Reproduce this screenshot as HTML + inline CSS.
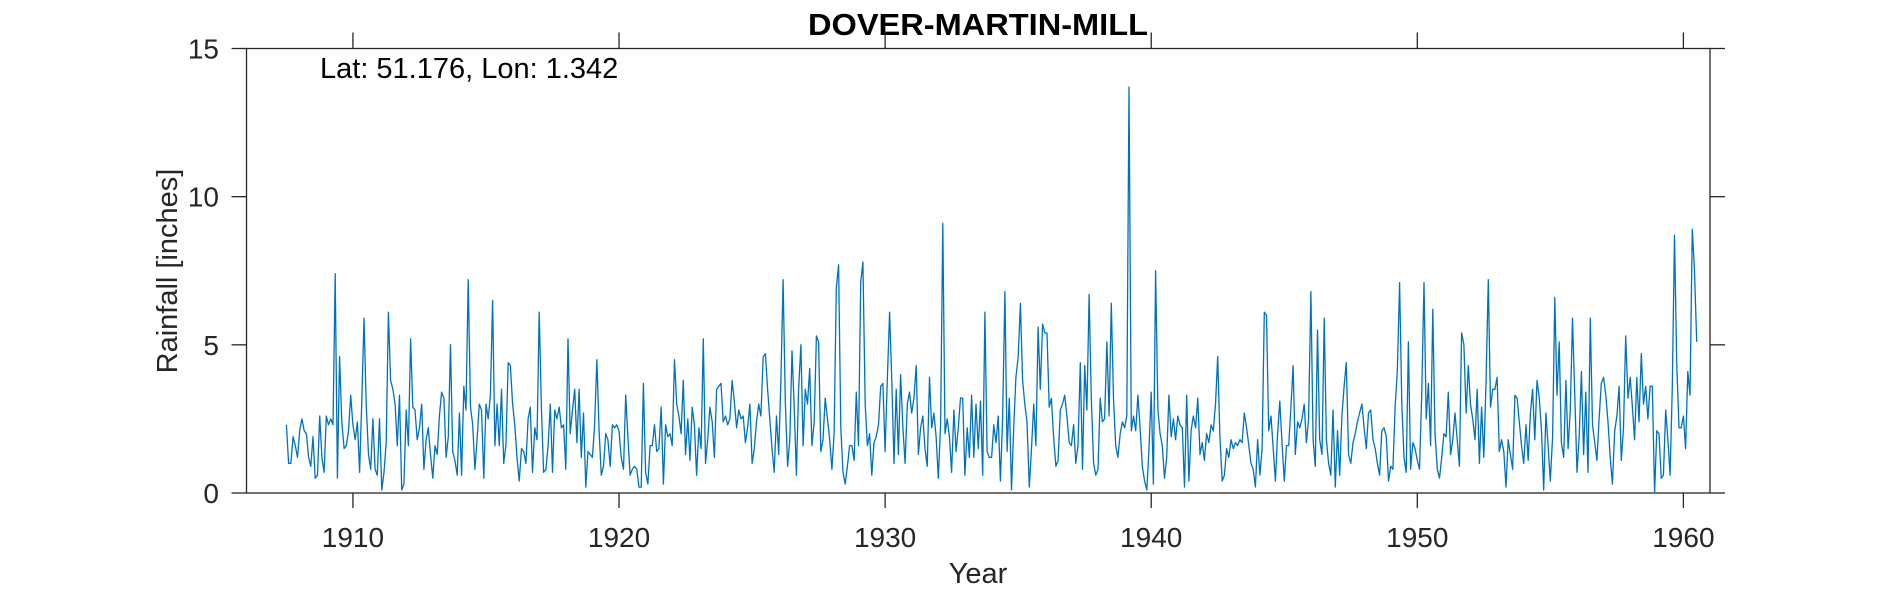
<!DOCTYPE html>
<html><head><meta charset="utf-8"><style>
html,body{margin:0;padding:0;background:#fff;}
svg{display:block;font-family:"Liberation Sans",Arial,sans-serif;}
</style></head><body>
<svg id="chart" width="1890" height="591" viewBox="0 0 1890 591">
<rect width="1890" height="591" fill="#fff"/>
<text x="978" y="35" text-anchor="middle" font-size="31" font-weight="bold" fill="#000" textLength="340" lengthAdjust="spacingAndGlyphs">DOVER-MARTIN-MILL</text>
<g id="axes"></g>
<g id="series"></g>
<text x="320" y="78" font-size="29" fill="#000">Lat: 51.176, Lon: 1.342</text>
<text x="978" y="583" text-anchor="middle" font-size="29" fill="#262626">Year</text>
<text transform="translate(177,271) rotate(-90)" text-anchor="middle" font-size="29" fill="#262626">Rainfall [inches]</text>
</svg>
<script>
const startYear = 1907.5;
const xTicks = [1910, 1920, 1930, 1940, 1950, 1960];
const yTicks = [0, 5, 10, 15];
const rain1907 = [2.3,1.0,1.0,1.9,1.6,1.2];
const rain1908_1915 = [
2.1,2.5,2.1,2.0,1.2,0.9,1.9,0.5,0.6,2.6,1.2,0.7,
2.6,2.3,2.5,2.3,7.4,0.5,4.6,2.4,1.5,1.6,2.1,3.3,
2.3,1.8,2.4,0.7,3.1,5.9,3.0,1.3,0.8,2.5,0.8,0.6,
2.5,0.1,0.7,1.7,6.1,3.8,3.5,3.0,1.6,3.3,0.1,0.3,
2.8,1.6,5.2,2.9,2.8,1.8,2.2,3.0,0.8,1.8,2.2,1.3,
0.5,1.6,1.3,2.6,3.4,3.2,1.2,1.9,5.0,1.4,1.1,0.6,
2.7,0.6,3.6,2.8,7.2,2.9,2.3,0.8,1.8,3.0,2.8,0.5,
3.0,2.5,3.3,6.5,1.6,3.0,1.6,3.5,1.0,1.6,4.4,4.3];
const rain1916_1922 = [
3.0,2.3,1.2,0.4,1.5,1.4,1.0,2.5,2.9,0.7,2.2,1.8,
6.1,2.9,0.7,0.8,1.6,3.0,0.7,2.8,2.5,2.9,2.2,2.3,
0.8,5.2,2.0,2.8,3.5,1.7,3.5,1.2,2.7,0.2,1.4,1.3,
1.2,2.3,4.5,2.1,0.6,0.9,2.0,1.8,0.9,2.3,2.2,2.3,
2.1,1.2,0.8,3.3,1.9,0.6,0.8,0.9,0.8,0.2,0.2,3.7,
0.7,0.3,1.6,1.6,2.3,1.4,1.5,2.9,0.3,2.3,1.9,2.0,
1.6,4.5,3.0,2.6,2.0,3.8,1.3,2.5,1.1,2.9,2.3,0.6];
const rain1923_1934 = [
2.2,1.5,5.2,1.0,1.8,2.9,2.4,1.2,3.5,3.6,3.7,2.4,
2.6,2.3,2.5,3.8,3.1,2.2,2.8,2.5,2.6,1.7,2.2,3.0,
1.0,1.5,2.4,3.0,2.6,4.6,4.7,3.5,2.5,1.5,0.7,2.6,
1.3,3.8,7.2,3.1,0.9,1.8,4.8,2.9,0.6,3.5,5.0,1.6,
3.5,3.0,4.2,1.6,2.4,5.3,5.1,1.4,1.8,3.2,2.5,1.8,
0.8,2.0,6.9,7.7,2.2,0.7,0.3,0.9,1.6,1.6,1.1,3.4,
1.6,7.1,7.8,3.0,1.6,2.0,0.6,1.7,1.9,2.3,3.6,3.7,
1.4,3.8,6.1,3.8,1.0,3.5,1.3,4.0,2.2,1.0,3.0,3.4,
2.7,3.2,4.3,1.3,2.2,2.6,1.5,0.9,3.9,2.2,2.7,1.9,
0.5,2.3,9.1,2.0,2.5,1.9,0.7,2.8,1.4,2.2,3.2,3.2,
0.6,2.2,1.2,3.3,1.2,3.0,1.5,3.1,0.6,6.1,1.4,1.2,
1.2,2.3,1.7,2.6,0.4,2.5,6.8,1.4,3.2,0.1,2.2,3.9];
const rain1935_1947 = [
4.6,6.4,3.8,3.0,2.4,0.2,1.5,3.0,1.6,5.6,3.5,5.7,
5.4,5.4,2.9,3.2,1.9,0.9,1.1,2.8,3.0,3.3,2.6,1.7,
1.6,2.3,1.0,1.6,4.4,0.8,4.3,2.8,6.7,3.2,1.0,0.6,
0.8,3.2,2.4,2.5,5.1,2.6,6.4,3.2,1.6,1.2,2.0,2.4,
2.2,2.6,13.7,2.1,2.6,2.1,3.3,2.2,0.9,0.4,0.1,1.5,
3.4,0.3,7.5,2.8,2.0,1.6,0.5,1.2,3.3,1.9,2.5,1.8,
2.6,2.3,2.2,0.2,3.3,0.4,2.1,2.6,2.2,3.2,1.3,1.7,
1.1,2.0,1.7,2.3,2.1,3.0,4.6,1.9,0.4,0.6,1.5,1.2,
1.8,1.5,1.7,1.6,1.8,1.7,2.7,2.2,1.6,1.0,0.8,0.2,
1.8,0.6,1.5,6.1,6.0,2.1,2.6,1.5,0.4,2.0,3.1,1.7,
0.4,1.6,1.6,2.9,4.3,1.3,2.4,2.2,2.5,3.0,1.7,2.5,
6.8,1.8,0.9,5.5,1.8,1.3,5.9,1.8,1.0,0.6,2.8,0.2,
2.1,0.6,2.6,3.6,4.4,1.3,1.0,1.7,2.0,2.4,2.7,3.0];
const rain1948_1960 = [
2.2,1.5,2.7,2.8,1.8,1.5,1.0,0.6,2.1,2.2,1.9,0.4,
0.9,0.8,2.9,4.1,7.1,3.0,1.2,0.7,5.1,0.8,1.7,1.5,
1.1,0.8,3.3,7.1,2.5,3.7,1.6,6.2,2.0,0.8,0.5,1.2,
2.0,1.9,3.4,1.3,1.8,2.7,1.8,0.9,5.4,5.0,2.7,4.3,
3.0,2.5,1.8,3.5,1.0,2.9,1.2,3.7,7.2,2.9,3.5,3.5,
3.9,1.4,1.8,1.4,0.2,1.8,1.3,0.8,3.3,3.2,2.4,1.6,
1.0,2.3,1.1,2.7,3.5,1.8,3.8,3.2,2.1,0.1,2.7,1.6,
0.4,1.9,6.6,3.3,5.1,1.7,1.2,3.8,1.5,2.8,5.9,3.4,
0.7,1.9,4.1,1.3,3.4,0.7,5.9,2.3,1.7,1.1,2.5,3.7,
3.9,3.3,2.4,1.2,0.3,2.1,2.6,3.6,1.1,2.2,5.3,3.2,
3.9,2.9,1.8,3.9,2.4,4.7,3.0,3.6,2.5,3.6,3.6,0.0,
2.1,2.0,0.5,0.6,2.8,1.8,0.6,3.6,8.7,4.4,2.2,2.2,
2.6,1.5,4.1,3.3,8.9,7.5,5.1];
const rainfall = [].concat(rain1907, rain1908_1915, rain1916_1922, rain1923_1934, rain1935_1947, rain1948_1960);

const NS = "http://www.w3.org/2000/svg";
const L = 246.5, R = 1710, T = 48.5, B = 493;
const xMin = 1906, xMax = 1961, yMin = 0, yMax = 15;
function xs(v){ return L + (v - xMin) / (xMax - xMin) * (R - L); }
function ys(v){ return B - (v - yMin) / (yMax - yMin) * (B - T); }
function mk(tag, attrs){ const e = document.createElementNS(NS, tag); for (const k in attrs) e.setAttribute(k, attrs[k]); return e; }

const axes = document.getElementById('axes');
const box = mk('rect', {x:L, y:T, width:R-L, height:B-T, fill:'none', stroke:'#262626', 'stroke-width':1.3});


axes.appendChild(box);

xTicks.forEach(function(t){
  const x = xs(t);
  const tb = mk('line', {x1:x, x2:x, y1:B, y2:B+15, stroke:'#262626', 'stroke-width':1.3});
  
  
  axes.appendChild(tb);
  const tt = mk('line', {x1:x, x2:x, y1:T, y2:T-16, stroke:'#262626', 'stroke-width':1.3});
  
  
  axes.appendChild(tt);
  const lb = mk('text', {x:x, y:547, 'text-anchor':'middle', 'font-size':28, fill:'#262626'});
  lb.textContent = t;
  
  
  axes.appendChild(lb);
});
yTicks.forEach(function(t){
  const y = ys(t);
  const tl = mk('line', {x1:L-15, x2:L, y1:y, y2:y, stroke:'#262626', 'stroke-width':1.3});
  
  
  axes.appendChild(tl);
  const tr = mk('line', {x1:R, x2:R+15, y1:y, y2:y, stroke:'#262626', 'stroke-width':1.3});
  
  
  axes.appendChild(tr);
  const lb = mk('text', {x:219, y:y+10, 'text-anchor':'end', 'font-size':28, fill:'#262626'});
  lb.textContent = t;
  
  
  axes.appendChild(lb);
});

const pts = rainfall.map(function(v, i){ return xs(startYear + i / 12).toFixed(1) + ',' + ys(v).toFixed(1); }).join(' ');
const line = mk('polyline', {points:pts, fill:'none', stroke:'#0072BD', 'stroke-width':1.3, 'stroke-linejoin':'round'});


document.getElementById('series').appendChild(line);
</script>
</body></html>
